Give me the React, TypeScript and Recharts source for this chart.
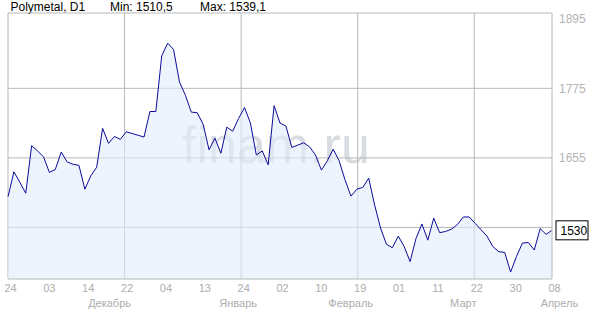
import { AreaChart, Area, XAxis, YAxis, CartesianGrid, ReferenceLine } from "recharts";

// дневные цены закрытия (Polymetal, D1)
const prices = [
  1588, 1631, 1613, 1594, 1676, 1667, 1657, 1630, 1635, 1665,
  1648, 1644, 1642, 1601, 1624, 1639, 1706, 1680, 1692, 1687,
  1700, 1697, 1694, 1691, 1735, 1735, 1831, 1853, 1842, 1786,
  1763, 1734, 1733, 1713, 1669, 1689, 1663, 1708, 1701, 1723,
  1742, 1715, 1660, 1667, 1643, 1745, 1715, 1710, 1673, 1677,
  1681, 1674, 1660, 1634, 1650, 1670, 1650, 1617, 1589, 1601,
  1604, 1620, 1574, 1534, 1506, 1500, 1520, 1502, 1476, 1516,
  1541, 1513, 1551, 1526, 1528, 1532, 1540, 1553, 1553, 1542,
  1531, 1520, 1502, 1493, 1492, 1458, 1485, 1508, 1509, 1496,
  1533, 1523, 1530,
];

const dayLabels = ["24", "03", "14", "22", "04", "13", "24", "02", "10", "19", "01", "11", "22", "30", "08"];
const monthLabels = ["Декабрь", "Январь", "Февраль", "Март", "Апрель"];
const monthAtTick = [3, 6, 9, 12, 14];
const priceTicks = [1655, 1775, 1895];
const gridPrices = [1535, 1655, 1775];
const lastPrice = 1530;

const Y_MIN = 1446;
const Y_MAX = 1905;
const LAST = prices.length - 1;
const DIV = dayLabels.length - 1;
const data = prices.map((v, i) => ({ i, v }));
const xTicks = dayLabels.map((_, k) => (k * LAST) / DIV);
// сетка раз в три риски + левая граница; верх рамки — линия по максимуму шкалы
const gridX = [0, 3, 6, 9, 12].map((k) => (k * LAST) / DIV);
const gridY = [...gridPrices, Y_MAX];

const FONT = "'Liberation Sans', Arial, sans-serif";
const GRID = "#b8b8b8";
const monthNudge = [-15, -3, -7, -11, 7.5]; // сдвиг подписи месяца от риски

function DayTick(props: any) {
  const { x, y, payload } = props;
  const k = Math.round((payload.value * DIV) / LAST);
  const m = monthAtTick.indexOf(k);
  return (
    <g fontFamily={FONT} fontSize={11} fill="#adadad">
      <text x={x + 2.5} y={y + 13} textAnchor="middle">
        {dayLabels[k]}
      </text>
      {m >= 0 && (
        <text x={x + monthNudge[m]} y={y + 27.5} textAnchor="middle">
          {monthLabels[m]}
        </text>
      )}
    </g>
  );
}

function PriceTag(props: any) {
  const vb = props.viewBox || {};
  const x = vb.x + vb.width + 4;
  const y = vb.y;
  return (
    <g>
      <rect x={x} y={y - 9.5} width={32} height={19} fill="#fff" stroke="#000" strokeWidth={1} />
      <text x={x + 4.5} y={y + 4.5} fontFamily={FONT} fontSize={12} fill="#000">
        {lastPrice}
      </text>
    </g>
  );
}

export default function App() {
  const head = { position: "absolute" as const, top: 0, fontFamily: FONT, fontSize: 12, lineHeight: "14px", color: "#000" };
  return (
    <div style={{ position: "fixed", left: 0, top: 0, width: 600, height: 315, background: "#fff" }}>
      <div
        style={{
          position: "absolute",
          left: 182,
          top: 119,
          fontFamily: FONT,
          fontSize: 52,
          lineHeight: "52px",
          color: "#d8dbe0",
          whiteSpace: "nowrap",
        }}
      >
        finam.ru
      </div>
      <div style={{ ...head, left: 10.5 }}>Polymetal, D1</div>
      <div style={{ ...head, left: 110 }}>Min: 1510,5</div>
      <div style={{ ...head, left: 200 }}>Max: 1539,1</div>
      <div style={{ position: "absolute", left: 0, top: 0 }}>
        <AreaChart width={600} height={315} data={data} margin={{ top: 13, right: 0, bottom: 0, left: 8 }}>
          <CartesianGrid stroke={GRID} horizontalValues={gridY} verticalValues={gridX} />
          <XAxis
            dataKey="i"
            type="number"
            domain={[0, LAST]}
            ticks={xTicks}
            interval={0}
            height={36}
            tickLine={false}
            tickSize={0}
            tickMargin={0}
            axisLine={{ stroke: GRID }}
            tick={<DayTick />}
          />
          <YAxis
            orientation="right"
            width={48}
            domain={[Y_MIN, Y_MAX]}
            ticks={priceTicks}
            interval={0}
            tickLine={false}
            tickSize={6}
            tickMargin={1}
            axisLine={{ stroke: GRID }}
            tick={{ fill: "#b4b4b4", fontSize: 12, fontFamily: FONT }}
          />
          <Area
            type="linear"
            dataKey="v"
            stroke="#0b0b98"
            strokeWidth={1}
            fill="#e1edfc"
            fillOpacity={0.6}
            dot={false}
            activeDot={false}
            isAnimationActive={false}
          />
          <ReferenceLine y={lastPrice} stroke="none" label={<PriceTag />} />
        </AreaChart>
      </div>
    </div>
  );
}
